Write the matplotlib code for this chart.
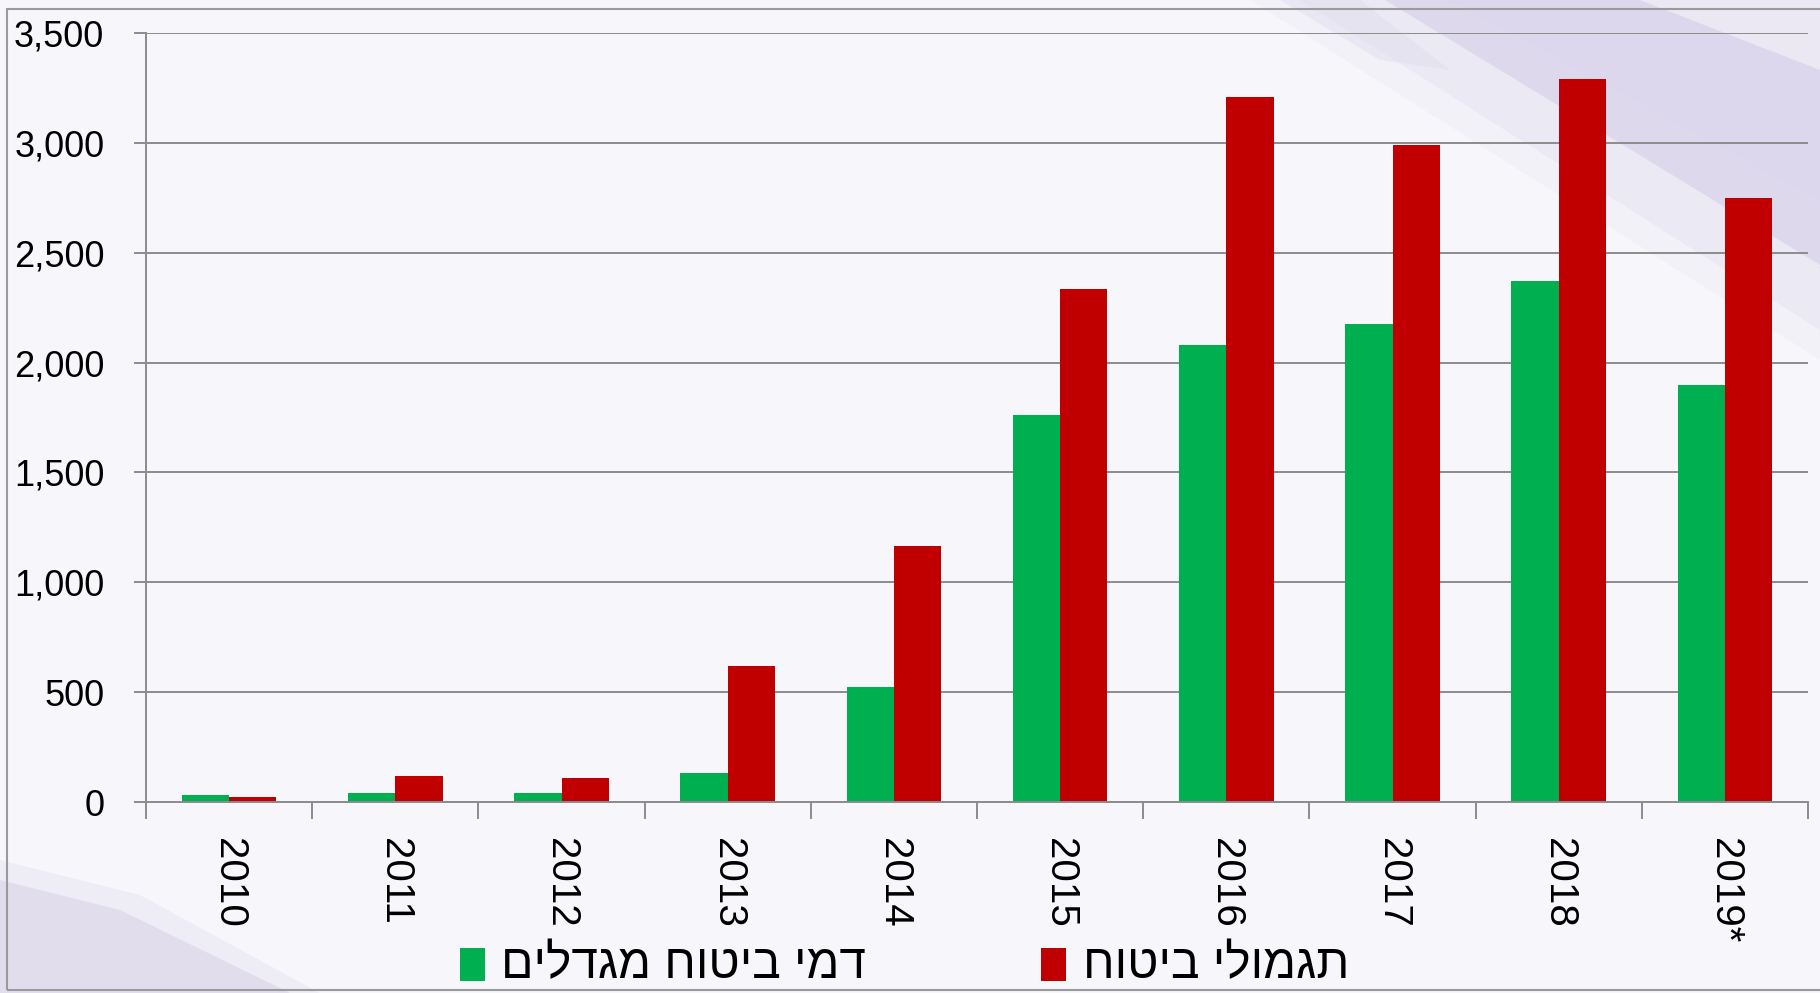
import numpy as np
import matplotlib.pyplot as plt
from matplotlib.patches import Rectangle, Polygon

# Data
YEARS = ['2010', '2011', '2012', '2013', '2014', '2015', '2016', '2017', '2018', '2019*']
PREMIUMS = [32, 43, 43, 131, 522, 1760, 2082, 2177, 2372, 1898]      # green series
CLAIMS = [22, 120, 111, 619, 1165, 2335, 3210, 2989, 3289, 2751]     # red series
SERIES_LABELS = ['דמי ביטוח מגדלים', 'תגמולי ביטוח']
SERIES_COLORS = ['#00B050', '#C00000']
Y_TICKS = [0, 500, 1000, 1500, 2000, 2500, 3000, 3500]

W, H = 1820, 993
GRID = '#8c8c8c'
BAR_W = 0.285

plt.rcParams['font.family'] = ['Liberation Sans', 'DejaVu Sans']


def px(x, y):
    # pixel (from top-left) -> figure fraction
    return (x / W, 1 - y / H)


fig = plt.figure(figsize=(W / 100, H / 100), dpi=100, facecolor='#f7f7fb')

# 1. Background swooshes (decoration), layered to soften the edges
swooshes = [
    ([(1250, 0), (1820, 0), (1820, 360)], '#ebe8f3', 0.35),
    ([(1300, 0), (1820, 0), (1820, 330)], '#e4e0f0', 0.45),
    ([(1385, 0), (1820, 0), (1820, 265)], '#d9d3ea', 0.75),
    ([(1450, 0), (1820, 0), (1820, 200)], '#dcd7ec', 0.4),
    ([(1640, 0), (1820, 0), (1820, 70)], '#efedf6', 0.8),
    ([(1280, 0), (1360, 0), (1450, 70), (1380, 60)], '#e2deef', 0.5),
    ([(0, 860), (140, 895), (320, 993), (0, 993)], '#e6e2f0', 0.5),
    ([(0, 880), (120, 910), (290, 993), (0, 993)], '#dcd7ea', 0.7),
]
for pts, col, a in swooshes:
    fig.add_artist(Polygon([px(*p) for p in pts], closed=True, facecolor=col,
                           edgecolor='none', alpha=a, transform=fig.transFigure, zorder=0))

# frame round the picture
fig.add_artist(Rectangle(px(7, 990), 1.2, (990 - 9) / H, fill=False, edgecolor='#9a9a9a',
                         linewidth=1.5, transform=fig.transFigure, zorder=1))

# 2. Bars
ax = fig.add_axes([146 / W, 1 - 802 / H, (1808 - 146) / W, (802 - 33) / H])
ax.set_facecolor('none')
x = np.arange(len(YEARS))
ax.bar(x - BAR_W / 2, PREMIUMS, BAR_W, color=SERIES_COLORS[0], zorder=3)
ax.bar(x + BAR_W / 2, CLAIMS, BAR_W, color=SERIES_COLORS[1], zorder=3)

ax.set_xlim(-0.5, len(YEARS) - 0.5)
ax.set_ylim(0, 3500)

# 3. Axes styling
ax.set_axisbelow(True)
ax.yaxis.grid(True, color=GRID, linewidth=1.4)
for side in ['top', 'right']:
    ax.spines[side].set_visible(False)
for side in ['left', 'bottom']:
    ax.spines[side].set_color(GRID)
    ax.spines[side].set_linewidth(1.4)
    ax.spines[side].set_zorder(4)

ax.set_yticks(Y_TICKS)
ax.set_yticklabels([f'{v:,}' for v in Y_TICKS])
ax.tick_params(axis='y', length=9, width=1.4, color=GRID, pad=21, labelsize=26)

ax.set_xticks(x)
ax.set_xticklabels(YEARS, rotation=-90, ha='center', va='top')
ax.set_xticks(np.arange(-0.5, len(YEARS)), minor=True)
ax.tick_params(axis='x', which='major', length=0, pad=26, labelsize=29)
ax.tick_params(axis='x', which='minor', length=12, width=1.4, color=GRID)

# 4. Legend (hand placed, Hebrew reversed for RTL display)
legend_pos = [(460, 501), (1041, 1083)]
for (sq_x, txt_x), label, col in zip(legend_pos, SERIES_LABELS, SERIES_COLORS):
    fig.add_artist(Rectangle(px(sq_x, 981), 25 / W, 33 / H, facecolor=col, edgecolor='none',
                             transform=fig.transFigure))
    fig.text(*px(txt_x, 943), label[::-1], fontsize=34.5, ha='left', va='top', color='black')

plt.savefig('out.png', dpi=100, facecolor=fig.get_facecolor())
plt.close(fig)
